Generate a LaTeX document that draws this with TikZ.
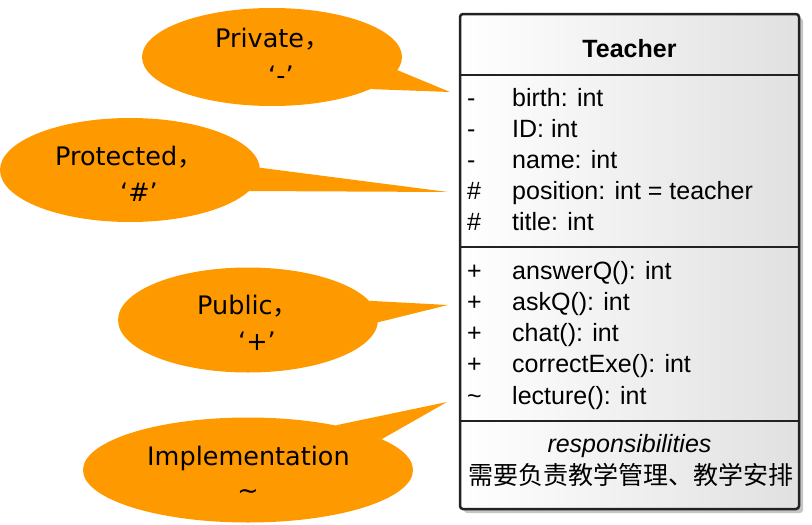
\documentclass[tikz,border=0pt]{standalone}
\usepackage{fontspec}
\setmainfont{Liberation Sans}
\newfontfamily\bubblefont{DejaVu Sans}
\newfontfamily\cjk{Noto Sans CJK SC}
\usetikzlibrary{shapes.geometric, shadows}
\definecolor{bubbleorange}{RGB}{255,153,0}
\definecolor{borderdark}{RGB}{34,34,34}

\begin{document}
\begin{tikzpicture}[x=1pt, y=-1pt,
    bubble/.style={ellipse, fill=bubbleorange, inner sep=0pt},
    tail/.style={fill=bubbleorange},
    bubbletext/.style={font=\bubblefont\fontsize{25.5}{30}\selectfont, inner sep=0pt, anchor=base west},
    classbox/.style={draw=borderdark, line width=2.5pt, rounded corners=3pt, left color=white, right color=black!12,
        drop shadow={shadow xshift=4pt, shadow yshift=-4pt, fill=black!45}},
    divider/.style={draw=borderdark, line width=2.5pt},
    member/.style={font=\fontsize{25}{30}\selectfont, inner sep=0pt, anchor=base west}]
    \useasboundingbox (0,0) rectangle (812,525);

    % Class box
    \node[classbox, minimum width=339, minimum height=495] (cls) at (629.5,261.5) {};
    \draw[divider] (cls.west |- 0,75) -- (cls.east |- 0,75);
    \draw[divider] (cls.west |- 0,247) -- (cls.east |- 0,247);
    \draw[divider] (cls.west |- 0,421) -- (cls.east |- 0,421);
    \node[member, anchor=base, font=\bfseries\fontsize{25}{30}\selectfont] (title) at (629.5,57) {Teacher};

    % Attributes and operations
    \foreach \vis/\name [count=\i] in {-/birth: int, -/ID: int, -/name: int, \#/position: int = teacher, \#/title: int} {
        \node[member] (avis\i) at (467,{75+31*\i}) {\vis};
        \node[member] (attr\i) at (512,{75+31*\i}) {\name};
    }
    \foreach \vis/\name [count=\i] in {+/answerQ(): int, +/askQ(): int, +/chat(): int, +/correctExe(): int, \textasciitilde/lecture(): int} {
        \node[member] (ovis\i) at (467,{248+31.2*\i}) {\vis};
        \node[member] (oper\i) at (512,{248+31.2*\i}) {\name};
    }

    % Responsibilities
    \node[member, anchor=base, font=\itshape\fontsize{25}{30}\selectfont] (resp) at (629.5,452) {responsibilities};
    \node[member, anchor=base, font=\cjk\fontsize{25}{30}\selectfont] (duty) at (631,484) {需要负责教学管理、教学安排};

    % Speech bubbles
    \node[bubble, minimum width=260, minimum height=98] (priv) at (272,57) {};
    \coordinate (privtip) at (450,92);
    \fill[tail] (priv.-6) -- (privtip) -- (priv.-18) -- cycle;
    \node[bubbletext] (privA) at (215,47) {Private{\cjk ，}};
    \node[bubbletext] (privB) at (268,84) {‘-’};

    \node[bubble, minimum width=260, minimum height=104] (prot) at (130,170) {};
    \coordinate (prottip) at (448,192);
    \fill[tail] (prot.1) -- (prottip) -- (prot.-10) -- cycle;
    \node[bubbletext] (protA) at (55,165) {Protected{\cjk ，}};
    \node[bubbletext] (protB) at (120,201) {‘\#’};

    \node[bubble, minimum width=260, minimum height=105] (pub) at (248,320) {};
    \coordinate (pubtip) at (448,305);
    \fill[tail] (pub.9) -- (pubtip) -- (pub.-1) -- cycle;
    \node[bubbletext] (pubA) at (197,314) {Public{\cjk ，}};
    \node[bubbletext] (pubB) at (238,350) {‘+’};

    \node[bubble, minimum width=330, minimum height=105] (impl) at (248,470) {};
    \coordinate (impltip) at (447,402);
    \fill[tail] (impl.27) -- (impltip) -- (impl.13) -- cycle;
    \node[bubbletext] (implA) at (147,465) {Implementation};
    \node[bubbletext, anchor=base] (implB) at (248,499) {\textasciitilde};
\end{tikzpicture}
\end{document}
